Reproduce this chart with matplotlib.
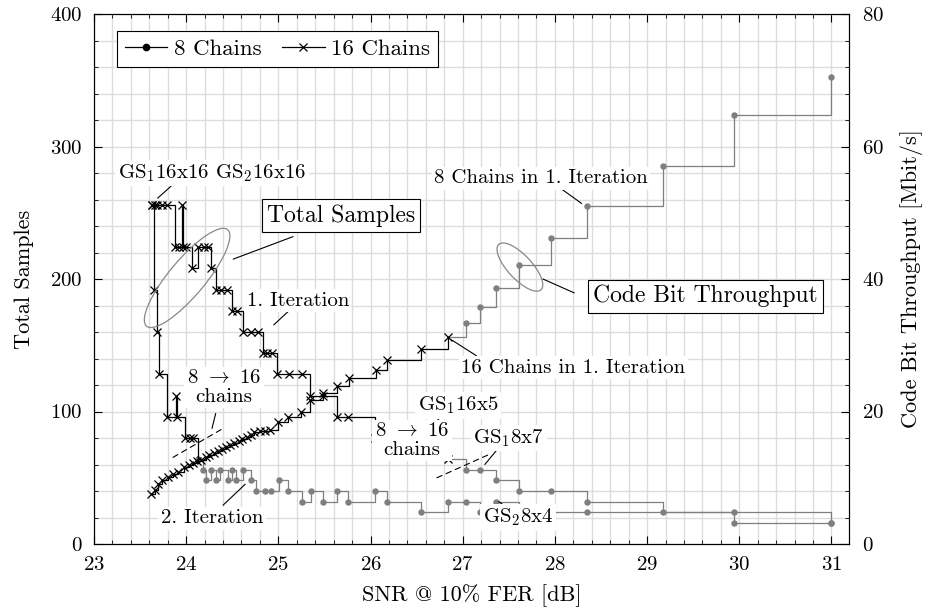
import matplotlib
matplotlib.use('Agg')
import matplotlib.pyplot as plt
from matplotlib.patches import Ellipse
from matplotlib.transforms import ScaledTranslation
from matplotlib.ticker import MultipleLocator
from matplotlib.lines import Line2D

plt.rcParams['font.family'] = ['cmr10', 'DejaVu Serif']
plt.rcParams['mathtext.fontset'] = 'cm'
plt.rcParams['axes.formatter.use_mathtext'] = True

# ---------------- data ----------------
# 16 chains, 1st iteration: total samples
s16_1_snr = [23.63, 23.66, 23.68, 23.74, 23.79, 23.88, 23.92, 23.95, 23.97, 24.00,
             24.06, 24.13, 24.19, 24.24, 24.27, 24.32, 24.38, 24.44, 24.50, 24.55,
             24.62, 24.70, 24.78, 24.83, 24.88, 24.93, 24.99, 25.11, 25.26, 25.34,
             25.48, 25.64, 25.75, 26.05, 26.18, 26.55, 26.84]
s16_1_samples = [256, 256, 256, 256, 256, 224, 224, 256, 224, 224,
                 208, 224, 224, 224, 208, 192, 192, 192, 176, 176,
                 160, 160, 160, 144, 144, 144, 128, 128, 128, 112,
                 112, 96, 96, 80, 80, 80, 64]

# 16 chains, 2nd iteration: total samples
s16_2_snr = [23.63, 23.65, 23.68, 23.70, 23.79, 23.89, 23.90, 23.99, 24.04, 24.07, 24.13]
s16_2_samples = [256, 192, 160, 128, 96, 112, 96, 80, 80, 80, 64]

# 8 chains, 2nd iteration: total samples
s8_2_snr = [24.13, 24.18, 24.22, 24.27, 24.32, 24.37, 24.45, 24.50, 24.54, 24.62,
            24.70, 24.76, 24.85, 24.92, 25.01, 25.10, 25.26, 25.35, 25.48, 25.64,
            25.75, 26.05, 26.18, 26.55, 26.84, 27.03, 27.19, 27.36, 27.61, 27.96,
            28.35, 29.94, 30.99]
s8_2_samples = [64, 56, 48, 56, 48, 56, 48, 56, 48, 56,
                48, 40, 40, 40, 48, 40, 32, 40, 32, 40,
                32, 40, 32, 24, 32, 32, 24, 32, 24, 24,
                24, 16, 16]

# 8 chains, 1st iteration: total samples
s8_1_snr = [26.84, 27.03, 27.19, 27.36, 27.61, 27.96, 28.35, 29.17, 29.94, 30.99]
s8_1_samples = [64, 56, 56, 48, 40, 40, 32, 24, 24, 16]

# 16 chains throughput [Mbit/s]
t16_snr = [23.62, 23.66, 23.69, 23.74, 23.80, 23.86, 23.91, 23.98, 24.03, 24.07,
           24.12, 24.16, 24.21, 24.25, 24.30, 24.34, 24.39, 24.43, 24.48, 24.52,
           24.57, 24.61, 24.66, 24.70, 24.74, 24.80, 24.86, 24.91, 25.00, 25.10,
           25.25, 25.34, 25.48, 25.64, 25.77, 26.06, 26.18, 26.55, 26.84]
t16_tp = [7.5, 8.1, 9.0, 9.6, 10.1, 10.5, 10.9, 11.6, 12.0, 12.3,
          12.5, 12.7, 13.1, 13.4, 13.7, 14.0, 14.4, 14.7, 15.0, 15.3,
          15.6, 15.9, 16.2, 16.5, 16.9, 17.0, 17.1, 17.2, 18.4, 19.2,
          20.0, 21.8, 22.8, 23.9, 25.0, 26.2, 27.8, 29.5, 31.3]

# 8 chains throughput [Mbit/s]
t8_snr = [26.84, 27.03, 27.19, 27.36, 27.61, 27.96, 28.35, 29.17, 29.94, 30.99]
t8_tp = [31.3, 33.4, 35.8, 38.6, 42.1, 46.2, 51.0, 57.0, 64.7, 70.5]

legend_labels = ['8 Chains', '16 Chains']

# ---------------- figure ----------------
W, H = 926, 613
fig = plt.figure(figsize=(W / 100, H / 100), dpi=100)
ax = fig.add_axes([94 / W, (H - 544) / H, 755 / W, 530 / H])
ax2 = ax.twinx()

BLACK = 'black'
GRAY = '#7f7f7f'
lw = 0.9

ax.set_xlim(23, 31.19)
ax.set_ylim(0, 400)
ax2.set_ylim(0, 80)

ax.xaxis.set_major_locator(MultipleLocator(1))
ax.xaxis.set_minor_locator(MultipleLocator(0.2))
ax.yaxis.set_major_locator(MultipleLocator(100))
ax.yaxis.set_minor_locator(MultipleLocator(20))
ax2.yaxis.set_major_locator(MultipleLocator(20))
ax2.yaxis.set_minor_locator(MultipleLocator(4))

ax.grid(which='both', color='#dddddd', lw=1.0)
ax.set_axisbelow(True)

TS = 15
ax.tick_params(which='both', direction='in', top=True, right=False, labelsize=TS)
ax.tick_params(which='major', length=6, width=0.8)
ax.tick_params(which='minor', length=3, width=0.6)
ax.tick_params(axis='x', pad=9)
ax.tick_params(axis='y', pad=8)
ax2.tick_params(which='both', direction='in', labelsize=TS, pad=9)
ax2.tick_params(which='major', length=6, width=0.8)
ax2.tick_params(which='minor', length=3, width=0.6)

# gray series (drawn first, underneath)
ax.plot(s8_2_snr, s8_2_samples, drawstyle='steps-post', color=GRAY, lw=lw,
        marker='o', ms=3.6, mfc=GRAY, mec=GRAY, zorder=2)
ax.plot(s8_1_snr, s8_1_samples, drawstyle='steps-post', color=GRAY, lw=lw,
        marker='o', ms=3.6, mfc=GRAY, mec=GRAY, markevery=list(range(1, len(s8_1_snr))), zorder=2)
ax2.plot(t8_snr, t8_tp, drawstyle='steps-post', color=GRAY, lw=lw,
         marker='o', ms=3.6, mfc=GRAY, mec=GRAY, markevery=list(range(1, len(t8_snr))), zorder=2)

# black series
ax.plot(s16_1_snr, s16_1_samples, drawstyle='steps-post', color=BLACK, lw=lw,
        marker='x', ms=6, mew=0.9, zorder=3)
ax.plot(s16_2_snr, s16_2_samples, drawstyle='steps-post', color=BLACK, lw=lw,
        marker='x', ms=6, mew=0.9, markevery=list(range(0, len(s16_2_snr) - 1)), zorder=3)
ax2.plot(t16_snr, t16_tp, drawstyle='steps-post', color=BLACK, lw=lw,
         marker='x', ms=6, mew=0.9, zorder=3)

LS = 16
ax.set_xlabel('SNR @ 10% FER [dB]', fontsize=LS, labelpad=7)
ax.set_ylabel('Total Samples', fontsize=LS, labelpad=12)
ax2.set_ylabel('Code Bit Throughput [Mbit/s]', fontsize=LS, labelpad=12)

# legend
handles = [Line2D([], [], color='k', lw=lw, marker='o', ms=4.5),
           Line2D([], [], color='k', lw=lw, marker='x', ms=6, mew=0.9)]
leg = ax2.legend(handles, legend_labels, loc='upper left', ncol=2, fontsize=16.5,
                 frameon=True, fancybox=False, edgecolor='black', framealpha=1,
                 bbox_to_anchor=(0.030, 0.968), borderaxespad=0, handlelength=1.85,
                 columnspacing=0.9, handletextpad=0.3, borderpad=0.35)
leg.get_frame().set_linewidth(0.8)

# annotations (placed on top axes, using left-axis data coords)
T = ax.transData
tb = dict(boxstyle='square,pad=0.12', fc='white', ec='none')
AF = 15


def leader(p0, p1, ls='-'):
    ax2.annotate('', xy=p1, xytext=p0, xycoords=T, textcoords=T,
                 arrowprops=dict(arrowstyle='-', color='k', lw=0.8, linestyle=ls,
                                 shrinkA=0, shrinkB=0), zorder=6)


def label(txt, xy, fs=AF, box=tb, **kw):
    ax2.text(xy[0], xy[1], txt, transform=T, ha='center', va='center',
             fontsize=fs, bbox=box, zorder=7, **kw)


BOX = dict(boxstyle='square,pad=0.22', fc='white', ec='black', lw=0.8)

label('GS$_1$16x16 GS$_2$16x16', (24.28, 280))
leader((23.835, 270), (23.69, 261))

label('Total Samples', (25.68, 247.7), fs=17, box=BOX)
leader((25.16, 232), (24.51, 215))

label('1. Iteration', (25.21, 183.5))
leader((25.115, 176), (24.95, 165.4))

label('8 $\\rightarrow$ 16\nchains', (24.41, 118), linespacing=1.05)
leader((24.32, 98.5), (24.28, 87.2))
leader((23.857, 65.4), (24.42, 88), ls=(0, (5, 4)))

label('2. Iteration', (24.28, 19.5))
leader((24.40, 29.3), (24.64, 45.1))

label('16 Chains in 1. Iteration', (28.2, 133))
leader((27.15, 142), (26.88, 154))

label('8 Chains in 1. Iteration', (27.85, 276))
leader((28.05, 269), (28.29, 257))

label('Code Bit Throughput', (29.63, 187), fs=17, box=BOX)
leader((28.21, 189.5), (27.87, 200))

label('GS$_1$16x5', (26.95, 104.5))
leader((26.75, 95), (26.61, 85.7))

label('8 $\\rightarrow$ 16\nchains', (26.45, 78), linespacing=1.05)
leader((26.72, 50), (27.3, 68), ls=(0, (5, 4)))

label('GS$_1$8x7', (27.5, 80))
leader((27.37, 71), (27.24, 60))

label('GS$_2$8x4', (27.6, 20))
leader((27.47, 28), (27.39, 32))

# ellipses (sizes in pixels, centred on data points)
e1 = Ellipse((0, 0), 2 * 63, 2 * 18, angle=50, fill=False, ec='#888888', lw=0.9,
             transform=ScaledTranslation(24.01, 200.8, T), zorder=5)
ax2.add_patch(e1)
e2 = Ellipse((0, 0), 2 * 31, 2 * 12, angle=-47, fill=False, ec='#888888', lw=0.9,
             transform=ScaledTranslation(27.62, 209, T), zorder=5)
ax2.add_patch(e2)

fig.savefig('out.png', dpi=100)
